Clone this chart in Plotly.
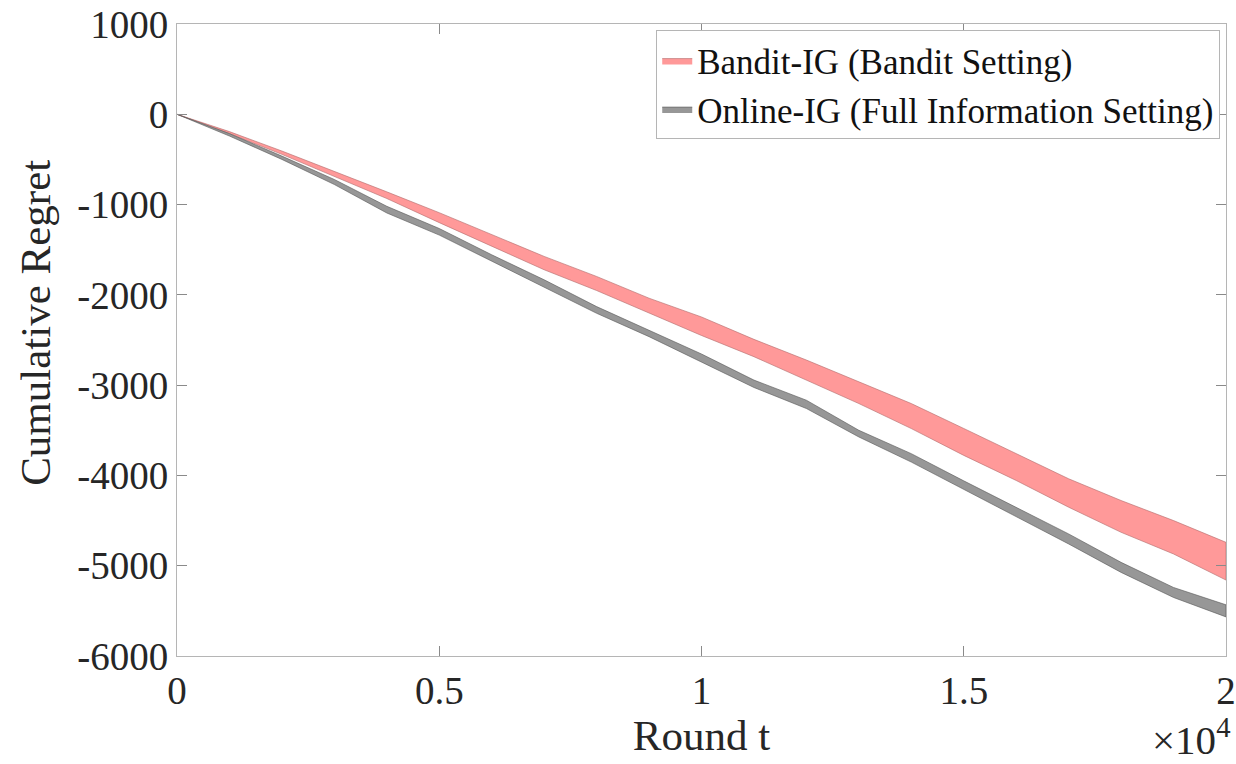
import plotly.graph_objects as go

rounds = [0, 1000, 2000, 3000, 4000, 5000, 6000, 7000, 8000, 9000, 10000,
          11000, 12000, 13000, 14000, 15000, 16000, 17000, 18000, 19000, 20000]

bandit_upper = [0, -192, -407, -630, -859, -1090, -1333, -1574, -1796, -2037, -2245,
                -2493, -2722, -2963, -3204, -3480, -3759, -4037, -4278, -4500, -4741]
bandit_lower = [0, -214, -444, -685, -933, -1200, -1463, -1722, -1952, -2204, -2450,
                -2685, -2944, -3204, -3481, -3778, -4056, -4352, -4630, -4870, -5159]
online_upper = [0, -214, -463, -722, -1019, -1265, -1556, -1833, -2130, -2389, -2655,
                -2944, -3167, -3500, -3759, -4060, -4352, -4648, -4963, -5241, -5433]
online_lower = [0, -241, -500, -778, -1093, -1338, -1630, -1915, -2204, -2463, -2741,
                -3026, -3259, -3574, -3852, -4150, -4456, -4759, -5074, -5352, -5567]

y_ticks = [1000, 0, -1000, -2000, -3000, -4000, -5000, -6000]
y_tick_labels = ["1000", "0", "-1000", "-2000", "-3000", "-4000", "-5000", "-6000"]
x_ticks = [0, 5000, 10000, 15000, 20000]
x_tick_labels = ["0", "0.5", "1", "1.5", "2"]

FONT = "Liberation Serif"
TXT = "#262626"

fig = go.Figure()
fig.add_trace(go.Scatter(
    x=rounds + rounds[::-1],
    y=bandit_upper + bandit_lower[::-1],
    fill="toself", fillcolor="#ff9999",
    line=dict(color="#b06a6a", width=0.6),
    mode="lines",
    name="Bandit-IG (Bandit Setting)",
))
fig.add_trace(go.Scatter(
    x=rounds + rounds[::-1],
    y=online_upper + online_lower[::-1],
    fill="toself", fillcolor="#979797",
    line=dict(color="#555555", width=0.6),
    mode="lines",
    name="Online-IG (Full Information Setting)",
))

axis_common = dict(
    showgrid=False, zeroline=False, automargin=False,
    showline=True, linecolor="#b5b5b5", linewidth=1, mirror="ticks",
    ticks="inside", ticklen=10, tickcolor="#8a8a8a", tickwidth=1,
    tickfont=dict(family=FONT, size=39, color=TXT),
)

fig.update_layout(
    width=1236, height=764,
    margin=dict(l=177, r=10, t=24, b=108),
    paper_bgcolor="white", plot_bgcolor="white",
    font=dict(family=FONT, color=TXT),
    xaxis=dict(range=[0, 20000], tickvals=x_ticks, ticktext=x_tick_labels,
               title=dict(text="Round t", font=dict(family=FONT, size=43, color=TXT), standoff=4),
               **axis_common),
    yaxis=dict(range=[-6000, 1000], tickvals=y_ticks, ticktext=y_tick_labels,
               **axis_common),
    legend=dict(x=0.9945, y=0.99, xanchor="right", yanchor="top",
                bgcolor="white", bordercolor="#b5b5b5", borderwidth=1,
                font=dict(family=FONT, size=35, color="#111111"),
                itemwidth=30, tracegroupgap=0),
    showlegend=True,
)

fig.add_annotation(
    xref="paper", yref="paper", x=-0.1345, y=0.527, xanchor="center", yanchor="middle",
    text="Cumulative Regret", textangle=-90, showarrow=False,
    font=dict(family=FONT, size=43, color=TXT),
)

fig.add_annotation(
    xref="paper", yref="paper", x=1.006, y=-0.172, xanchor="right", yanchor="bottom",
    text="×10<sup>4</sup>", showarrow=False,
    font=dict(family=FONT, size=41, color=TXT),
)

fig.write_html("out.html", config={"displayModeBar": False},
               post_script="document.body.style.margin='0';")
